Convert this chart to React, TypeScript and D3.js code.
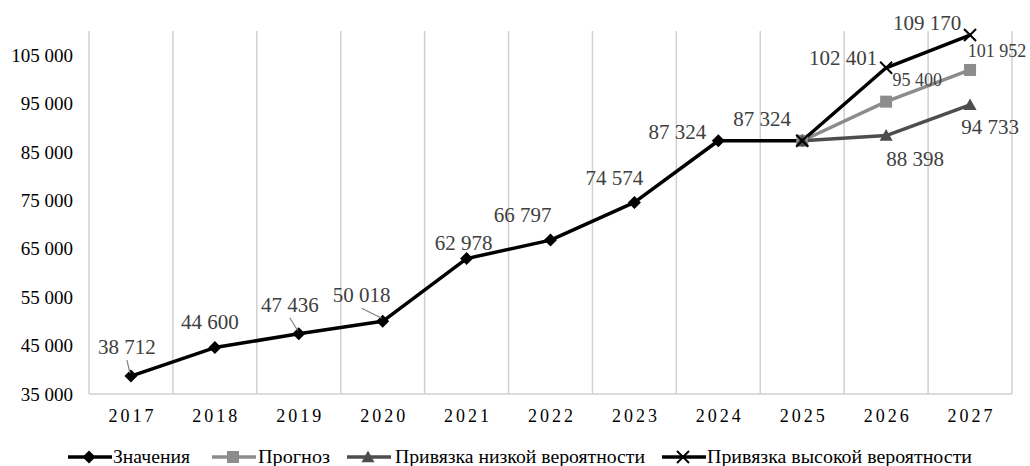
import React from "react";
import * as d3 from "d3";

const years = ["2017", "2018", "2019", "2020", "2021", "2022", "2023", "2024", "2025", "2026", "2027"];
const actualValues: (number | null)[] = [38712, 44600, 47436, 50018, 62978, 66797, 74574, 87324, 87324, null, null];
const forecastValues: (number | null)[] = [null, null, null, null, null, null, null, null, 87324, 95400, 101952];
const lowValues: (number | null)[] = [null, null, null, null, null, null, null, null, 87324, 88398, 94733];
const highValues: (number | null)[] = [null, null, null, null, null, null, null, null, 87324, 102401, 109170];
const yTicks = [35000, 45000, 55000, 65000, 75000, 85000, 95000, 105000];
const seriesNames = ["Значения", "Прогноз", "Привязка низкой вероятности", "Привязка высокой вероятности"];

// label layout nudges (dx, dy from the point; leader flag), kept separate from the data
const actualNudges: ([number, number, boolean] | null)[] = [
  [-4, -22, true], [-5, -19, false], [-9, -22, true], [-21, -19, true], [-3, -9, false],
  [-28, -18, false], [-20, -17, false], [-41, -2, false], [-40, -15, false], null, null,
];
const forecastNudges: ([number, number, boolean] | null)[] = [null, null, null, null, null, null, null, null, null, [31, -16, false], [27, -13, false]];
const lowNudges: ([number, number, boolean] | null)[] = [null, null, null, null, null, null, null, null, null, [29, 30, false], [20, 29, false]];
const highNudges: ([number, number, boolean] | null)[] = [null, null, null, null, null, null, null, null, null, [-43, -3, false], [-43, -5, false]];

const W = 1030;
const H = 466;
const margin = { left: 89, right: 18, top: 31, bottom: 72 };
const FONT = "'Liberation Serif', 'DejaVu Serif', serif";

const fmt = (v: number) => d3.format(",")(v).replace(/,/g, " ");

type Marker = "diamond" | "square" | "triangle" | "cross";

function MarkerShape({ type, x, y, color, s = 1 }: { type: Marker; x: number; y: number; color: string; s?: number }) {
  if (type === "diamond") {
    const r = 6.5 * s;
    return <path d={`M${x},${y - r}L${x + r},${y}L${x},${y + r}L${x - r},${y}Z`} fill={color} />;
  }
  if (type === "square") {
    const r = 6 * s;
    return <rect x={x - r} y={y - r} width={2 * r} height={2 * r} fill={color} />;
  }
  if (type === "triangle") {
    const r = 6.5 * s;
    return <path d={`M${x},${y - r}L${x + r},${y + r * 0.8}L${x - r},${y + r * 0.8}Z`} fill={color} />;
  }
  const r = 6 * s;
  return (
    <g stroke={color} strokeWidth={2}>
      <line x1={x - r} y1={y - r} x2={x + r} y2={y + r} />
      <line x1={x - r} y1={y + r} x2={x + r} y2={y - r} />
    </g>
  );
}

export default function App() {
  const x = d3.scaleBand<string>().domain(years).range([margin.left, W - margin.right]);
  const y = d3.scaleLinear().domain([35000, 110000]).range([H - margin.bottom, margin.top]);
  const cx = (yr: string) => (x(yr) as number) + x.bandwidth() / 2;

  const series = [
    { name: seriesNames[0], values: actualValues, color: "#000000", marker: "diamond" as Marker, nudges: actualNudges, labelColor: "#404040", fs: 21 },
    { name: seriesNames[1], values: forecastValues, color: "#8c8c8c", marker: "square" as Marker, nudges: forecastNudges, labelColor: "#404040", fs: 18 },
    { name: seriesNames[2], values: lowValues, color: "#4d4d4d", marker: "triangle" as Marker, nudges: lowNudges, labelColor: "#404040", fs: 21 },
    { name: seriesNames[3], values: highValues, color: "#000000", marker: "cross" as Marker, nudges: highNudges, labelColor: "#404040", fs: 21 },
  ];

  const line = d3
    .line<[string, number | null]>()
    .defined((d) => d[1] !== null)
    .x((d) => cx(d[0]))
    .y((d) => y(d[1] as number));

  const boundaries = years.map((yr) => (x(yr) as number) + x.bandwidth());
  const y0 = y.range()[0];
  const y1 = y.range()[1];

  const legendItems = [
    { lx: 68, tx: 113, tl: 77 },
    { lx: 212, tx: 258, tl: 72 },
    { lx: 347, tx: 395, tl: 250 },
    { lx: 662, tx: 707, tl: 265 },
  ];

  return (
    <svg width={W} height={H} style={{ position: "absolute", left: 0, top: 0, background: "#fff", fontFamily: FONT }}>
      <rect width={W} height={H} fill="#fff" />
      {boundaries.map((bx, i) => (
        <line key={i} x1={bx} x2={bx} y1={y1} y2={y0} stroke="#d0d0d0" strokeWidth={1.5} />
      ))}
      <line x1={margin.left} x2={margin.left} y1={y1} y2={y0} stroke="#d0d0d0" strokeWidth={1.5} />
      <line x1={margin.left} x2={W - margin.right} y1={y0} y2={y0} stroke="#d0d0d0" strokeWidth={1.5} />
      {yTicks.map((t) => (
        <text key={t} x={73} y={y(t)} dy="0.35em" textAnchor="end" fontSize={19} fill="#000" style={{ fontFamily: FONT }}>
          {fmt(t)}
        </text>
      ))}
      {years.map((yr) => (
        <text key={yr} x={cx(yr) + 1.5} y={422} textAnchor="middle" fontSize={18} letterSpacing={3} fill="#000" style={{ fontFamily: FONT }}>
          {yr}
        </text>
      ))}
      {series.map((s) => (
        <path
          key={s.name}
          d={line(years.map((yr, i) => [yr, s.values[i]] as [string, number | null])) || ""}
          fill="none"
          stroke={s.color}
          strokeWidth={3.5}
          strokeLinejoin="round"
        />
      ))}
      {series.map((s) =>
        years.map((yr, i) =>
          s.values[i] === null ? null : <MarkerShape key={s.name + yr} type={s.marker} x={cx(yr)} y={y(s.values[i] as number)} color={s.color} />
        )
      )}
      {series.map((s) =>
        years.map((yr, i) => {
          const v = s.values[i];
          const n = s.nudges[i];
          if (v === null || !n) return null;
          const px = cx(yr);
          const py = y(v);
          const lx = px + n[0];
          const ly = py + n[1];
          return (
            <g key={"l" + s.name + yr}>
              {n[2] && <line x1={lx} y1={ly + 6} x2={px - 1} y2={py - 3} stroke="#7f7f7f" strokeWidth={1.2} />}
              <text x={lx} y={ly} textAnchor="middle" fontSize={s.fs} fill={s.labelColor} style={{ fontFamily: FONT }}>
                {fmt(v)}
              </text>
            </g>
          );
        })
      )}
      {series.map((s, i) => {
        const it = legendItems[i];
        const ly = 457;
        return (
          <g key={"lg" + s.name}>
            <line x1={it.lx} x2={it.lx + 44} y1={ly} y2={ly} stroke={s.color} strokeWidth={3.5} />
            <MarkerShape type={s.marker} x={it.lx + 21} y={ly} color={s.color} />
            <text x={it.tx} y={ly + 6} fontSize={19.5} fill="#000" textLength={it.tl} lengthAdjust="spacingAndGlyphs" style={{ fontFamily: FONT }}>
              {s.name}
            </text>
          </g>
        );
      })}
    </svg>
  );
}
